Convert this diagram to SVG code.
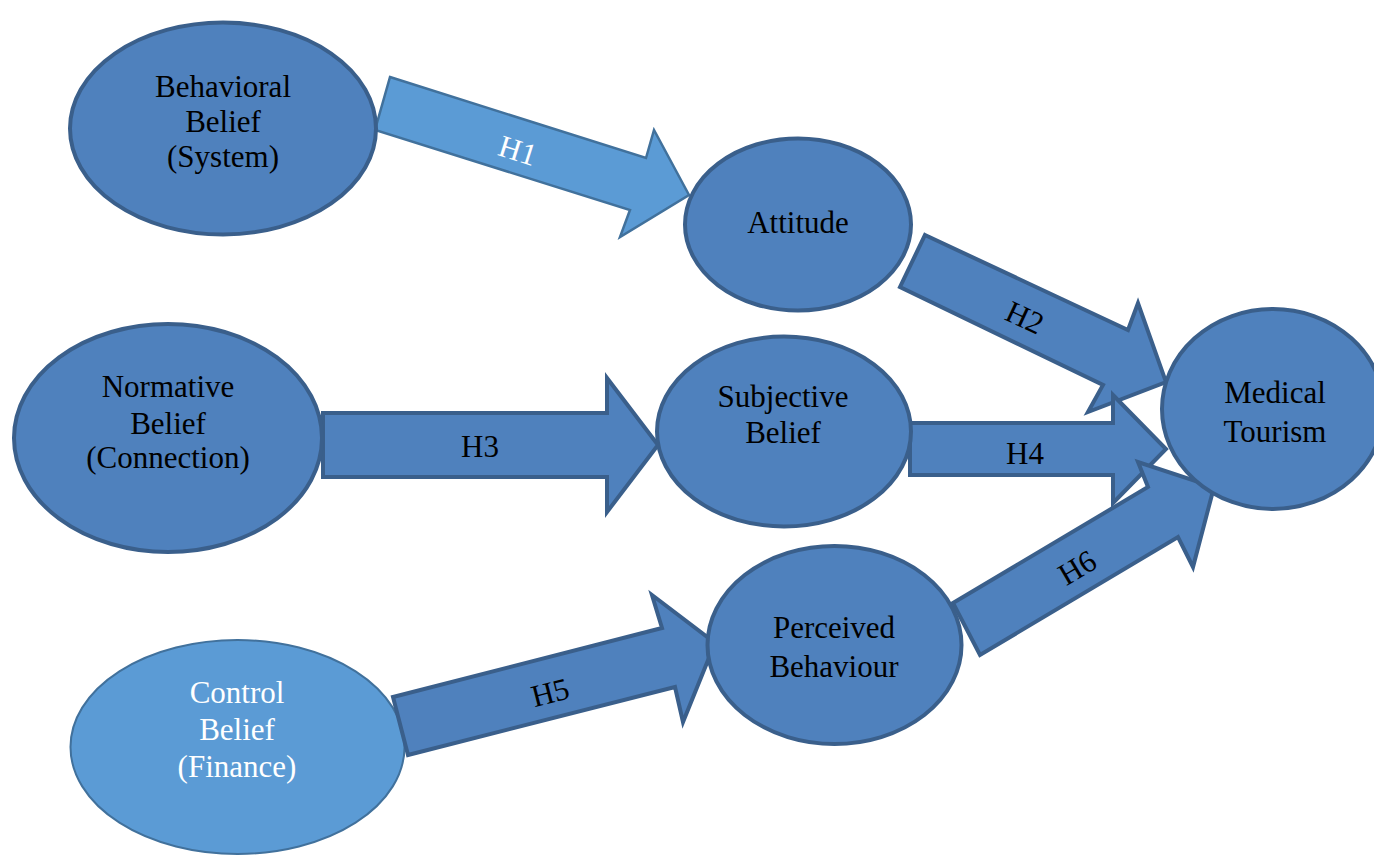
<svg xmlns="http://www.w3.org/2000/svg" width="1374" height="857" viewBox="0 0 1374 857">
  <style>
    .node { fill: #4F81BD; stroke: #3A5F8B; stroke-width: 4; }
    .node-light { fill: #5B9BD5; stroke: #41719C; stroke-width: 2; }
    .arrow { fill: #4F81BD; stroke: #3A5F8B; stroke-width: 4; stroke-linejoin: miter; }
    .arrow-light { fill: #5B9BD5; stroke: #41719C; stroke-width: 2.5; stroke-linejoin: miter; }
    text { font-family: "Liberation Serif", "Times New Roman", serif; font-size: 31px; text-anchor: middle; fill: #000; }
    .white { fill: #fff; }
  </style>
  <rect width="1374" height="857" fill="#fff"/>

  <!-- Control Belief sits underneath the H5 arrow tail -->
  <g id="control-belief">
    <ellipse class="node-light" cx="237.5" cy="747" rx="167" ry="107"/>
    <text class="white" x="237" y="703">Control</text>
    <text class="white" x="237" y="740">Belief</text>
    <text class="white" x="237" y="777">(Finance)</text>
  </g>

  <g id="connectors">
    <g id="h1">
      <polygon class="arrow-light" points="390,77 646,158 654,130 689,195 620,237 630,210 375,130"/>
      <text class="white" transform="translate(518,150) rotate(17.6)" x="0" y="11">H1</text>
    </g>
    <g id="h2">
      <polygon class="arrow" points="925,235 1128,330 1138,303 1166,382 1088,412 1103,385 900,287"/>
      <text transform="translate(1025,317) rotate(25)" x="0" y="11">H2</text>
    </g>
    <g id="h3">
      <polygon class="arrow" points="323,413 607,413 607,378 658,445 607,512 607,477 323,477"/>
      <text x="480" y="457">H3</text>
    </g>
    <g id="h4">
      <polygon class="arrow" points="910,423 1113,423 1113,395 1166,449 1113,503 1113,475 910,475"/>
      <text x="1025" y="464">H4</text>
    </g>
    <g id="h5">
      <polygon class="arrow" points="393,697 662,628 652,595 715,643 683,722 675,687 408,755"/>
      <text transform="translate(550,692) rotate(-14.4)" x="0" y="11">H5</text>
    </g>
    <g id="h6">
      <polygon class="arrow" points="953,603 1148,487 1138,462 1214,487 1193,567 1178,537 980,655"/>
      <text transform="translate(1077,567) rotate(-30.7)" x="0" y="11">H6</text>
    </g>
  </g>

  <g id="behavioral-belief">
    <ellipse class="node" cx="223" cy="128.5" rx="153" ry="106"/>
    <text x="223" y="97">Behavioral</text>
    <text x="223" y="132">Belief</text>
    <text x="223" y="167">(System)</text>
  </g>

  <g id="attitude">
    <ellipse class="node" cx="798" cy="224.5" rx="113" ry="86"/>
    <text x="798" y="233">Attitude</text>
  </g>

  <g id="normative-belief">
    <ellipse class="node" cx="168" cy="438" rx="154" ry="114"/>
    <text x="168" y="397">Normative</text>
    <text x="168" y="434">Belief</text>
    <text x="168" y="468">(Connection)</text>
  </g>

  <g id="subjective-belief">
    <ellipse class="node" cx="784" cy="431.5" rx="127" ry="95"/>
    <text x="783" y="407">Subjective</text>
    <text x="783" y="443">Belief</text>
  </g>

  <g id="perceived-behaviour">
    <ellipse class="node" cx="834.5" cy="645" rx="127" ry="99"/>
    <text x="834" y="638">Perceived</text>
    <text x="834" y="677">Behaviour</text>
  </g>

  <g id="medical-tourism">
    <ellipse class="node" cx="1273" cy="409" rx="111" ry="100"/>
    <text x="1275" y="403">Medical</text>
    <text x="1275" y="442">Tourism</text>
  </g>
</svg>
